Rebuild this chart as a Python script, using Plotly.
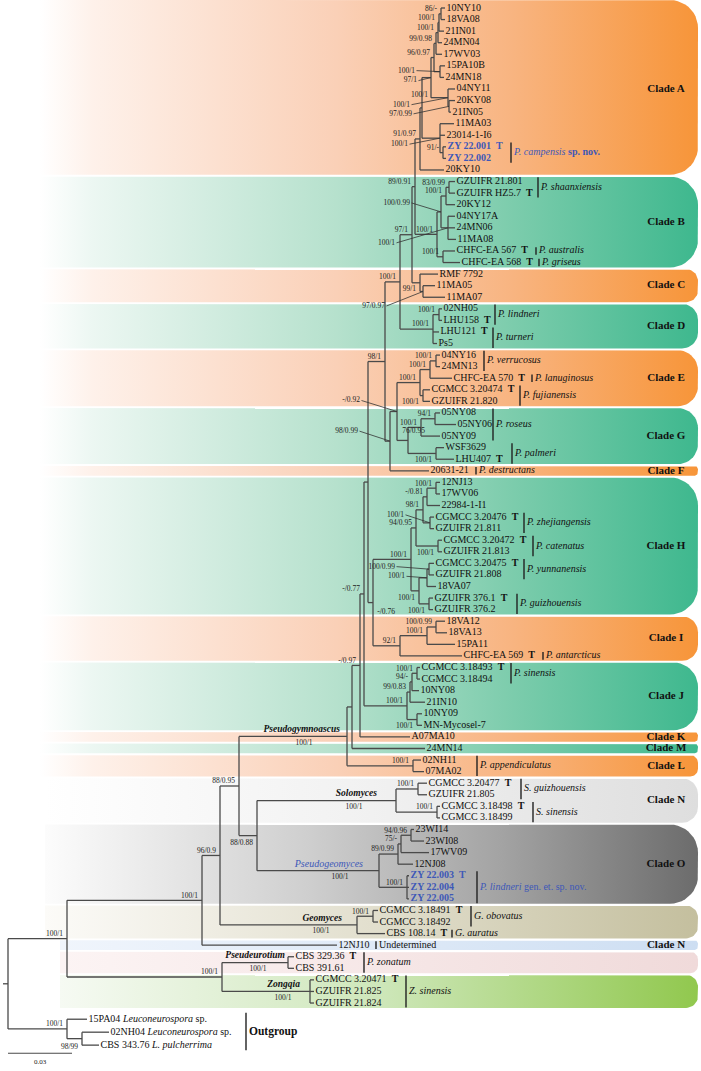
import numpy as np
import plotly.graph_objects as go
from collections import defaultdict

# ============================ DATA ============================
# Leaves (top to bottom)
LEAF_NAMES = [
    "10NY10", "18VA08", "21IN01", "24MN04", "17WV03", "15PA10B", "24MN18", "04NY11", "20KY08", "21IN05",
    "11MA03", "23014-1-I6", "ZY 22.001 T", "ZY 22.002", "20KY10",
    "GZUIFR 21.801", "GZUIFR HZ5.7 T", "20KY12", "04NY17A", "24MN06", "11MA08", "CHFC-EA 567 T", "CHFC-EA 568 T",
    "RMF 7792", "11MA05", "11MA07",
    "02NH05", "LHU158 T", "LHU121 T", "Ps5",
    "04NY16", "24MN13", "CHFC-EA 570 T", "CGMCC 3.20474 T", "GZUIFR 21.820",
    "05NY08", "05NY06", "05NY09", "WSF3629", "LHU407 T",
    "20631-21",
    "12NJ13", "17WV06", "22984-1-I1", "CGMCC 3.20476 T", "GZUIFR 21.811", "CGMCC 3.20472 T", "GZUIFR 21.813",
    "CGMCC 3.20475 T", "GZUIFR 21.808", "18VA07", "GZUIFR 376.1 T", "GZUIFR 376.2",
    "18VA12", "18VA13", "15PA11", "CHFC-EA 569 T",
    "CGMCC 3.18493 T", "CGMCC 3.18494", "10NY08", "21IN10", "10NY09", "MN-Mycosel-7",
    "A07MA10", "24MN14", "02NH11", "07MA02",
    "CGMCC 3.20477 T", "GZUIFR 21.805", "CGMCC 3.18498 T", "CGMCC 3.18499",
    "23WI14", "23WI08", "17WV09", "12NJ08", "ZY 22.003 T", "ZY 22.004", "ZY 22.005",
    "CGMCC 3.18491 T", "CGMCC 3.18492", "CBS 108.14 T", "12NJ10", "CBS 329.36 T", "CBS 391.61",
    "CGMCC 3.20471 T", "GZUIFR 21.825", "GZUIFR 21.824",
    "15PA04 <i>Leuconeurospora</i> sp.", "02NH04 <i>Leuconeurospora</i> sp.", "CBS 343.76 <i>L. pulcherrima</i>",
]
LEAF_PARENT = [
    "A1", "A1", "A2", "A3", "A4", "A5", "A5", "A7", "A8", "A8",
    "G4", "G4", "AZY", "AZY", "A",
    "B1", "B1", "B2", "B3", "B3", "B3", "B5", "B5",
    "C", "C1", "C1",
    "D1", "D1", "D", "D",
    "E2", "E2", "E1", "E3", "E3",
    "G2", "G2", "G1", "G3", "G3",
    "N390",
    "H1", "H1", "H2", "H3", "H3", "HC", "HC",
    "H6", "H6", "H7", "HG", "HG",
    "I2", "I2", "I1", "I",
    "JS", "JS", "J3", "J1", "J2", "J2",
    "N360", "N352", "L", "L",
    "SG", "SG", "SS", "SS",
    "N94", "N94", "N75", "N89", "ZYN", "ZYN", "ZYN",
    "GOB", "GOB", "GEO", "X", "PSEU", "PSEU",
    "ZONG", "ZONG", "ZONG",
    "OUT", "OSUB", "OSUB",
]
# depth from root (scale: 64 units = 0.03 substitutions/site)
LEAF_DEPTH = [
    437, 437, 436, 434, 434, 437, 436, 447, 447, 443,
    446, 437, 438, 438, 436,
    447, 447, 447, 447, 447, 448, 447, 452,
    430, 427, 437,
    434, 434, 431, 429,
    432, 432, 444, 422, 422,
    432, 448, 432, 436, 446,
    421,
    432, 432, 432, 426, 426, 434, 434,
    426, 426, 428, 425, 425,
    437, 439, 447, 454,
    412, 412, 411, 417, 414, 414,
    402, 417, 413, 416,
    419, 419, 432, 432,
    406, 416, 421, 405, 401, 401, 401,
    370, 370, 377, 329, 286, 286,
    306, 306, 306,
    79, 101, 91,
]

# Internal nodes
NODE_IDS = [
    "root", "ING", "OUT", "OSUB", "X", "PZ", "PSEU", "ZONG", "Y", "Z",
    "GEO", "GOB", "P", "W", "SOL", "SG", "SS", "PGEO", "N89", "N75",
    "N94", "ZYN", "N352", "L", "N360", "N365", "J", "J1", "J3", "JS",
    "J2", "N368", "N373", "H", "I", "I1", "I2", "H5", "H4", "H2",
    "H1", "H3", "HC", "H8", "H7", "H6", "HG", "N385", "N400", "N390",
    "N397", "E", "E1", "E2", "E3", "G", "G1", "G2", "G3", "D",
    "D1", "N417", "C", "C1", "AB", "B", "B4", "B2", "B1", "B3",
    "B5", "A", "A10", "A9", "A6", "A4", "A3", "A2", "A1", "A5",
    "A7", "A8", "G4", "AZY",
]
NODE_PARENT = [
    None, "root", "root", "OUT", "ING", "ING", "PZ", "PZ", "X", "Y",
    "Y", "GEO", "Z", "Z", "W", "SOL", "SOL", "W", "PGEO", "N89",
    "N75", "PGEO", "P", "P", "N352", "N360", "N365", "J", "J1", "J3",
    "J", "N365", "N368", "N373", "N373", "I", "I1", "H", "H5", "H4",
    "H2", "H4", "H5", "H", "H8", "H7", "H8", "N368", "N385", "N385",
    "N390", "N397", "E", "E1", "E", "N397", "G", "G1", "G", "N400",
    "D", "N400", "N417", "C", "N417", "AB", "B", "B4", "B2", "B4",
    "B", "AB", "A", "A10", "A9", "A6", "A4", "A3", "A2", "A6",
    "A9", "A7", "A10", "G4",
]
NODE_DEPTH = [
    0, 59, 59, 74, 194, 214, 280, 302, 212, 231,
    349, 365, 339, 249, 388, 410, 429, 371, 390, 393,
    403, 399, 344, 405, 352, 356, 399, 402, 404, 409,
    409, 360, 365, 403, 392, 419, 428, 408, 415, 419,
    428, 422, 430, 411, 419, 421, 421, 377, 392, 382,
    389, 412, 422, 428, 415, 400, 413, 427, 428, 425,
    431, 404, 412, 415, 407, 429, 433, 438, 441, 440,
    435, 412, 414, 423, 426, 428, 430, 431, 433, 432,
    440, 441, 432, 435,
]
NODE_SUPPORT = [
    "", "100/1", "100/1", "98/99", "100/1", "100/1", "100/1", "100/1", "96/0.9", "88/0.95",
    "100/1", "100/1", "100/1", "88/0.88", "100/1", "100/1", "100/1", "100/1", "89/0.99", "75/-",
    "94/0.96", "100/1", "", "100/1", "-/0.97", "-/0.77", "100/1", "99/0.83", "94/-", "100/1",
    "100/1", "", "-/0.76", "100/1", "92/1", "100/1", "100/0.99", "94/0.95", "98/1", "-/0.81",
    "100/1", "100/1", "100/1", "100/1", "100/1", "100/0.99", "100/1", "98/1", "100/1", "98/0.99",
    "-/0.92", "100/1", "100/1", "100/1", "100/1", "76/0.95", "100/1", "94/1", "100/1", "100/1",
    "100/1", "97/1", "99/1", "97/0.97", "89/0.91", "100/1", "100/0.99", "100/1", "83/0.99", "100/1",
    "100/1", "91/0.97", "100/1", "97/1", "96/0.97", "99/0.98", "100/1", "100/1", "86/-", "100/1",
    "100/1", "97/0.99", "100/1", "91/-",
]

# Genus names on the branches
GENUS_NODES = ["P", "SOL", "PGEO", "GEO", "PSEU", "ZONG"]
GENUS_NAMES = ["Pseudogymnoascus", "Solomyces", "Pseudogeomyces", "Geomyces", "Pseudeurotium", "Zongqia"]

# Clade bands (1-based leaf ranges)
CLADE_LABELS = ["Clade A", "Clade B", "Clade C", "Clade D", "Clade E", "Clade G", "Clade F", "Clade H",
                "Clade I", "Clade J", "Clade K", "Clade M", "Clade L", "Clade N", "Clade O", "",
                "Clade N", "", ""]
CLADE_FIRST = [1, 16, 24, 27, 31, 36, 41, 42, 54, 58, 64, 65, 66, 68, 72, 79, 82, 83, 85]
CLADE_LAST = [15, 23, 26, 30, 35, 40, 41, 53, 57, 63, 64, 65, 67, 71, 78, 81, 82, 84, 87]
CLADE_PALETTE = ["orange", "green", "orange", "green", "orange", "green", "orange", "green",
                 "orange", "green", "orange", "green", "orange", "lightgray", "darkgray", "beige",
                 "blue", "pink", "lime"]

# Species annotations
SPECIES_TEXT = [
    "<i>P. campensis</i> <b>sp. nov.</b>", "<i>P. shaanxiensis</i>", "<i>P. australis</i>", "<i>P. griseus</i>",
    "<i>P. lindneri</i>", "<i>P. turneri</i>", "<i>P. verrucosus</i>", "<i>P. lanuginosus</i>",
    "<i>P. fujianensis</i>", "<i>P. roseus</i>", "<i>P. palmeri</i>", "<i>P. destructans</i>",
    "<i>P. zhejiangensis</i>", "<i>P. catenatus</i>", "<i>P. yunnanensis</i>", "<i>P. guizhouensis</i>",
    "<i>P. antarcticus</i>", "<i>P. sinensis</i>", "<i>P. appendiculatus</i>", "<i>S. guizhouensis</i>",
    "<i>S. sinensis</i>", "<i>P. lindneri</i> gen. et. sp. nov.", "<i>G. obovatus</i>", "<i>G. auratus</i>",
    "Undetermined", "<i>P. zonatum</i>", "<i>Z. sinensis</i>", "<b>Outgroup</b>",
]
SPECIES_FIRST = [13, 16, 22, 23, 27, 29, 31, 33, 34, 36, 39, 41, 45, 47, 49, 52, 57, 58, 66, 68, 70, 76, 79, 81, 82, 83, 85, 88]
SPECIES_LAST = [14, 17, 22, 23, 28, 30, 32, 33, 35, 38, 40, 41, 46, 48, 50, 53, 57, 59, 67, 69, 71, 78, 80, 81, 82, 84, 87, 90]
NEW_TAXA = ["<i>P. campensis</i> <b>sp. nov.</b>", "<i>P. lindneri</i> gen. et. sp. nov."]

SCALE_VALUE = 0.03
DEPTH_PER_SUBST = 64 / 0.03

# ============================ LAYOUT / STYLE ============================
W, H = 701, 1071
ROOT_X = 8
ROW_PX = 11.57
FIRST_ROW_PX = 8.0
SERIF = "Liberation Serif, Times New Roman, serif"
BLUE = "#3d58b8"
LINE = "#4a4a4a"
BAND_RIGHT = 698

# species bar x (pixels)
SPECIES_BAR_X = [511, 538, 536, 539, 495, 493, 484, 532, 520, 493, 512, 476, 524, 533, 524, 517,
                 543, 511, 477, 521, 533, 477, 471, 452, 376, 364, 406, 246]

PALETTES = {
    "orange": (40, [[0, "rgb(255,255,255)"], [0.08, "rgb(254,241,234)"], [0.45, "rgb(250,208,183)"],
                    [0.72, "rgb(248,180,128)"], [1, "rgb(247,149,57)"]]),
    "green": (40, [[0, "rgb(255,255,255)"], [0.08, "rgb(236,247,242)"], [0.45, "rgb(182,225,205)"],
                   [0.72, "rgb(124,204,172)"], [1, "rgb(62,184,142)"]]),
    "lightgray": (45, [[0, "rgb(255,255,255)"], [0.5, "rgb(241,241,241)"], [1, "rgb(222,222,222)"]]),
    "darkgray": (45, [[0, "rgb(252,252,252)"], [0.4, "rgb(207,207,207)"], [0.7, "rgb(163,163,163)"],
                      [1, "rgb(108,108,108)"]]),
    "beige": (45, [[0, "rgb(252,251,248)"], [0.5, "rgb(226,223,206)"], [1, "rgb(196,191,158)"]]),
    "blue": (60, [[0, "rgb(240,245,252)"], [1, "rgb(205,222,242)"]]),
    "pink": (60, [[0, "rgb(252,244,244)"], [1, "rgb(240,218,218)"]]),
    "lime": (60, [[0, "rgb(246,250,243)"], [0.5, "rgb(206,231,186)"], [1, "rgb(145,200,78)"]]),
}

# support label placement: (mode, dx px, dy px) relative to node; mode ptr draws a leader line
LABEL_STYLE = {
    "A5": ("ptr", -25, -1), "A9": ("ptr", -14, 3), "A7": ("ptr", -38, 7), "A8": ("ptr", -37, 7.5),
    "A10": ("free", 6, -12.5),
    "G4": ("ptr", -32, 6), "B4": ("ptr", -31, -9), "B3": ("ptr", -53, 15), "C1": ("ptr", -38, 14.5),
    "N397": ("ptr", -37, -11), "N390": ("ptr", -32, -10), "H3": ("ptr", -26, -8),
    "H6": ("ptr", -34, -2.5), "H7": ("ptr", -22, -1.5),
    "G": ("free", 17, -9), "N373": ("free", 22, 10),
    "OSUB": ("free", -4, 8), "W": ("free", -4, 7.5), "E3": ("free", -4, 7), "G3": ("free", -4, 7),
    "HC": ("free", -4, 7), "J2": ("free", -4, 7), "H8": ("free", -4, 7), "HG": ("free", -4, 7),
    "C": ("free", -4, 6),
}
DEFAULT_LABEL = ("free", -4, -4.5)
# genus label: (dx of name right end, dx of support centre)
GENUS_STYLE = {"P": (-7, -43), "SOL": (-19, -42), "PGEO": (-16, -39), "GEO": (-15, -36),
               "PSEU": (-3, -30), "ZONG": (-10, -27)}

# ============================ BUILD ============================
n_in = 87
rows = [float(r) for r in range(1, n_in + 1)] + [n_in + 1.4 + 1.12 * k for k in range(3)]
PXR = 1.0 / ROW_PX  # rows per pixel

assert len(LEAF_NAMES) == len(LEAF_PARENT) == len(LEAF_DEPTH) == 90
assert len(NODE_IDS) == len(NODE_PARENT) == len(NODE_DEPTH) == len(NODE_SUPPORT)

node_depth = dict(zip(NODE_IDS, NODE_DEPTH))
node_support = dict(zip(NODE_IDS, NODE_SUPPORT))
children = defaultdict(list)
for i, p in enumerate(LEAF_PARENT):
    children[p].append(("leaf", i))
for nid, p in zip(NODE_IDS, NODE_PARENT):
    if p is not None:
        children[p].append(("node", nid))

node_y = {}


def get_y(kind, ref):
    if kind == "leaf":
        return rows[ref]
    if ref in node_y:
        return node_y[ref]
    ys = [get_y(k, r) for k, r in children[ref]]
    node_y[ref] = (min(ys) + max(ys)) / 2
    return node_y[ref]


get_y("node", "root")

fig = go.Figure()

# ---- bands
def band_path(x0, x1, y0, y1, r):
    ry = r * PXR
    xs, ys = [x0, x1 - r], [y0, y0]
    for t in np.linspace(-np.pi / 2, 0, 12):
        xs.append(x1 - r + r * np.cos(t)); ys.append(y0 + ry + ry * np.sin(t))
    for t in np.linspace(0, np.pi / 2, 12):
        xs.append(x1 - r + r * np.cos(t)); ys.append(y1 - ry + ry * np.sin(t))
    xs += [x0, x0]; ys += [y1, y0]
    return xs, ys


for lab, f, l, pal in zip(CLADE_LABELS, CLADE_FIRST, CLADE_LAST, CLADE_PALETTE):
    x0px, cs = PALETTES[pal]
    y0 = rows[f - 1] - 0.5 + 0.9 * PXR
    y1 = rows[l - 1] + 0.5 - 0.9 * PXR
    if f == 1:
        y0 = rows[0] - FIRST_ROW_PX * PXR
    hpx = (y1 - y0) * ROW_PX
    r = min(28, 0.36 * hpx)
    x0, x1 = x0px - ROOT_X, BAND_RIGHT - ROOT_X
    xs, ys = band_path(x0, x1, y0, y1, r)
    fig.add_trace(go.Scatter(x=xs, y=ys, mode="lines", line=dict(width=0), fill="toself",
                             fillgradient=dict(type="horizontal", colorscale=cs, start=x0, stop=x1),
                             hoverinfo="skip", showlegend=False))

# ---- tree lines
lx, ly = [], []
root_y = node_y["root"]
lx += [-5, 0, None]; ly += [root_y, root_y, None]
for nid in NODE_IDS:
    x = node_depth[nid]
    ch = children[nid]
    cys = [get_y(k, r) for k, r in ch]
    lx += [x, x, None]; ly += [min(cys), max(cys), None]
    for (k, r), cy in zip(ch, cys):
        cx = LEAF_DEPTH[r] if k == "leaf" else node_depth[r]
        lx += [x, cx, None]; ly += [cy, cy, None]
fig.add_trace(go.Scatter(x=lx, y=ly, mode="lines", line=dict(color=LINE, width=1.3),
                         hoverinfo="skip", showlegend=False))


def add_text(xs, ys, texts, pos, size, color, bold=False):
    fig.add_trace(go.Scatter(x=xs, y=ys, text=texts, mode="text", textposition=pos,
                             textfont=dict(size=size, color=color, family=SERIF,
                                           weight="bold" if bold else "normal"),
                             hoverinfo="skip", showlegend=False, cliponaxis=False))


# ---- leaf labels
tx, ty, tt, tc = [], [], [], []
for i, name in enumerate(LEAF_NAMES):
    blue = name.startswith("ZY")
    if name.endswith(" T"):
        txt = name[:-2] + "\u00a0\u00a0<b>T</b>"
    else:
        txt = name
    if blue:
        txt = "<b>" + txt + "</b>"
    tx.append(LEAF_DEPTH[i] + 1.5); ty.append(rows[i]); tt.append(txt)
    tc.append(BLUE if blue else "#111111")
add_text(tx, ty, tt, "middle right", 10, tc)

# ---- support labels
sx, sy, st = [], [], []
px_, py_ = [], []
for nid in NODE_IDS:
    s = node_support[nid]
    if not s or nid in GENUS_STYLE:
        continue
    mode, dx, dy = LABEL_STYLE.get(nid, DEFAULT_LABEL)
    x, y = node_depth[nid], node_y[nid]
    sx.append(x + dx); sy.append(y + dy * PXR); st.append(s)
    if mode == "ptr":
        px_ += [x + dx + 1.5, x, None]; py_ += [y + dy * PXR, y, None]
add_text(sx, sy, st, "middle left", 7.5, "#222222")
fig.add_trace(go.Scatter(x=px_, y=py_, mode="lines", line=dict(color="#333333", width=0.8),
                         hoverinfo="skip", showlegend=False))

# ---- genus labels
for nid, gname in zip(GENUS_NODES, GENUS_NAMES):
    dxn, dxs = GENUS_STYLE[nid]
    x, y = node_depth[nid], node_y[nid]
    if nid == "PGEO":
        add_text([x + dxn], [y - 6.5 * PXR], ["<i>" + gname + "</i>"], "middle left", 10, BLUE)
    else:
        add_text([x + dxn], [y - 6.5 * PXR], ["<b><i>" + gname + "</i></b>"], "middle left", 9.5, "#111111")
    add_text([x + dxs], [y + 6.5 * PXR], [node_support[nid]], "middle center", 7.5, "#222222")

# ---- species bars and names
bx, by = [], []
for txt, f, l, xb in zip(SPECIES_TEXT, SPECIES_FIRST, SPECIES_LAST, SPECIES_BAR_X):
    y0, y1 = rows[f - 1] - 0.38, rows[l - 1] + 0.38
    if f == l:
        y0, y1 = rows[f - 1] - 0.33, rows[l - 1] + 0.33
    if txt == "<b>Outgroup</b>":
        y0, y1 = rows[f - 1] - 0.55, rows[l - 1] + 0.45
    xb0 = xb - ROOT_X
    bx += [xb0, xb0, None]; by += [y0, y1, None]
    color = BLUE if txt in NEW_TAXA else "#111111"
    size = 11.5 if txt == "<b>Outgroup</b>" else 10
    add_text([xb0 + 3], [(rows[f - 1] + rows[l - 1]) / 2], [txt], "middle right", size, color)
fig.add_trace(go.Scatter(x=bx, y=by, mode="lines", line=dict(color="#222222", width=1.4),
                         hoverinfo="skip", showlegend=False))

# ---- clade labels
cx, cy, ct = [], [], []
for lab, f, l in zip(CLADE_LABELS, CLADE_FIRST, CLADE_LAST):
    if lab:
        cx.append(666 - ROOT_X); cy.append((rows[f - 1] + rows[l - 1]) / 2); ct.append("<b>" + lab + "</b>")
add_text(cx, cy, ct, "middle center", 11, "#111111")

# ---- scale bar
sb_y = rows[-1] + 0.7
sb_len = SCALE_VALUE * DEPTH_PER_SUBST
fig.add_trace(go.Scatter(x=[0, sb_len], y=[sb_y, sb_y], mode="lines", line=dict(color=LINE, width=1.2),
                         hoverinfo="skip", showlegend=False))
add_text([sb_len / 2], [sb_y + 0.8], [str(SCALE_VALUE)], "middle center", 7, "#222222")

top_row = 1 - FIRST_ROW_PX / ROW_PX
fig.update_layout(
    width=W, height=H, margin=dict(l=0, r=0, t=0, b=0),
    paper_bgcolor="white", plot_bgcolor="white", showlegend=False,
    xaxis=dict(range=[-ROOT_X, W - ROOT_X], visible=False, fixedrange=True),
    yaxis=dict(range=[top_row + H / ROW_PX, top_row], visible=False, fixedrange=True),
)
fig.write_html("out.html", config={"displayModeBar": False},
               post_script="document.body.style.margin='0px';document.body.style.padding='0px';"
                           "document.body.style.overflow='hidden';")
